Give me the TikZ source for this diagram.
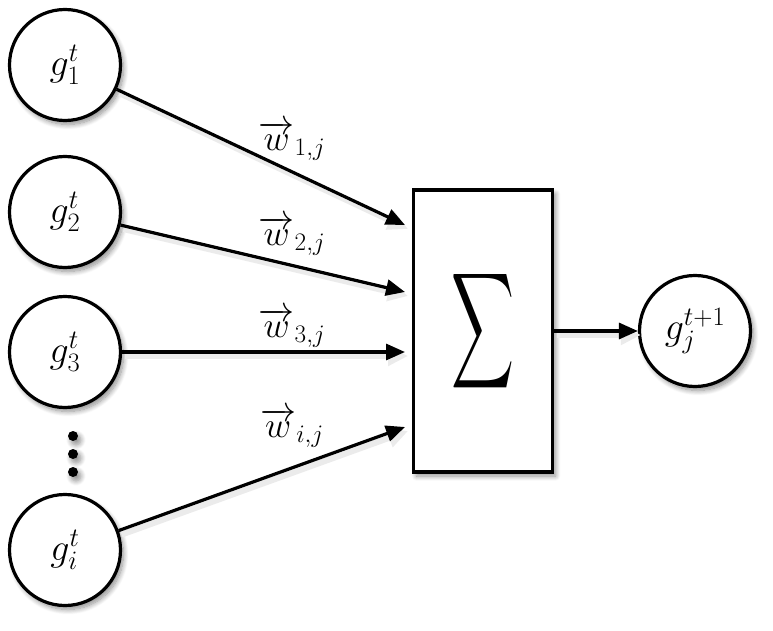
\RequirePackage{fix-cm}
\documentclass[tikz,border=0pt]{standalone}
\usepackage{amsmath}
\usetikzlibrary{arrows.meta,shadows.blur}
\begin{document}
\begin{tikzpicture}[x=1pt,y=-1pt,
  shade/.style={blur shadow={shadow xshift=3pt,shadow yshift=-4pt,shadow blur steps=10,shadow blur radius=5pt,shadow opacity=45}},
  neuron/.style={circle,draw,line width=3.2pt,minimum size=111pt,inner sep=0pt,fill=white,shade,font=\fontsize{38}{44}\selectfont},
  sumbox/.style={draw,line width=3.2pt,fill=white,minimum width=139pt,minimum height=282pt,inner sep=0pt,shade},
  conn/.style={line width=3.2pt,-{Triangle[length=19pt,width=16pt]}},
  connshadow/.style={line width=6pt,black!8,-{Triangle[length=20pt,width=19pt]},transform canvas={shift={(3pt,-4pt)}}},
  wlabel/.style={font=\fontsize{36}{40}\selectfont,inner sep=0pt},
  dotmark/.style={circle,fill=black,minimum size=10pt,inner sep=0pt,shade}
]
\useasboundingbox (0,0) rectangle (773,631);

\node[neuron] (g1) at (65,65) {$g_1^t$};
\node[neuron] (g2) at (65,212) {$g_2^t$};
\node[neuron] (g3) at (65,352) {$g_3^t$};
\node[neuron] (gi) at (65,550) {$g_i^t$};
\node[dotmark] (d1) at (73,436) {};
\node[dotmark] (d2) at (73,454) {};
\node[dotmark] (d3) at (73,472) {};

\node[sumbox] (sum) at (483,331) {\resizebox{63pt}{85pt}{$\displaystyle\sum$}};
\node[neuron] (out) at (695,331) {$g_j^{t+1}$};

\coordinate (t1) at (405,225);
\coordinate (t2) at (405,292);
\coordinate (t3) at (405,352);
\coordinate (t4) at (405,427);

\draw[connshadow] (g1) -- (t1);
\draw[connshadow] (g2) -- (t2);
\draw[connshadow] (g3) -- (t3);
\draw[connshadow] (gi) -- (t4);
\draw[connshadow] (sum.east) -- (out.west);

\draw[conn] (g1) -- (t1);
\draw[conn] (g2) -- (t2);
\draw[conn] (g3) -- (t3);
\draw[conn] (gi) -- (t4);
\draw[conn] (sum.east) -- (out.west);

\node[wlabel] (w1) at (292,141) {$\overrightarrow{w}_{1,j}$};
\node[wlabel] (w2) at (292,236) {$\overrightarrow{w}_{2,j}$};
\node[wlabel] (w3) at (292,328) {$\overrightarrow{w}_{3,j}$};
\node[wlabel] (w4) at (292,428) {$\overrightarrow{w}_{i,j}$};
\end{tikzpicture}
\end{document}
